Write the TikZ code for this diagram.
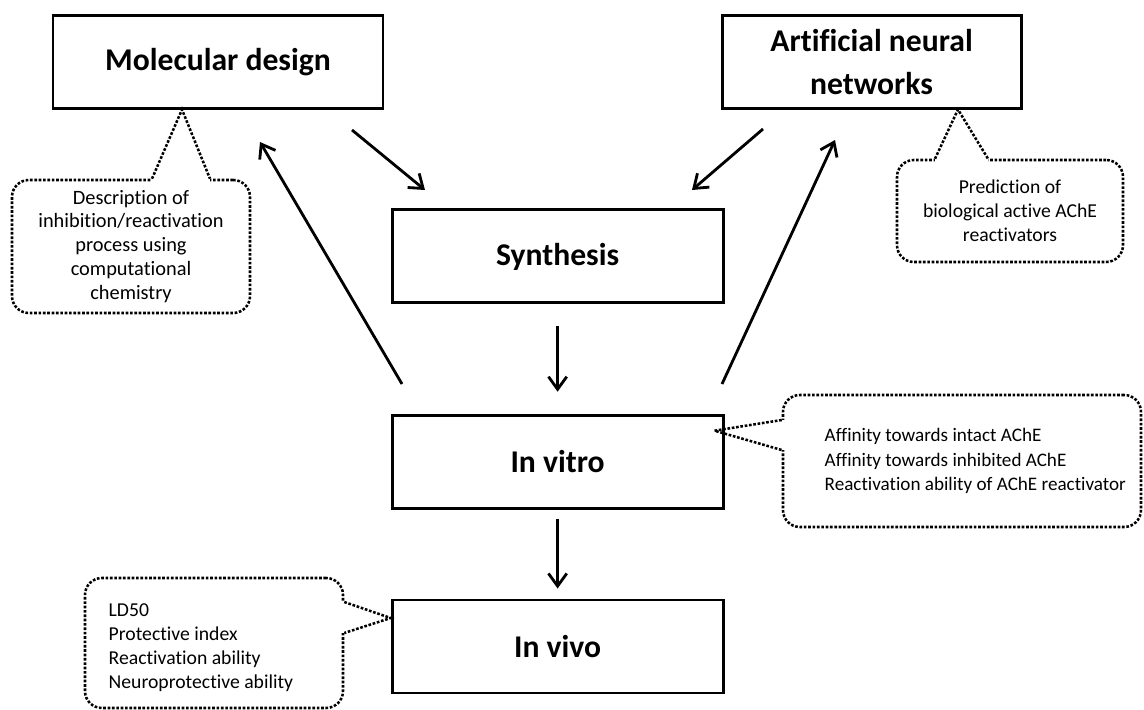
\documentclass[tikz,border=0pt]{standalone}
\usepackage{fontspec}
\setmainfont{Carlito}[Ligatures=NoCommon]
\usetikzlibrary{arrows.meta, positioning}

\begin{document}
\begin{tikzpicture}[
  stage/.style={rectangle, draw, line width=2pt, minimum height=2.325cm,
                text centered, font=\fontsize{22.5}{30.5}\selectfont\bfseries},
  note/.style={rectangle, draw, rounded corners=12pt, line width=1.8pt,
               dash pattern=on 1.9pt off 1.2pt, font=\fontsize{14}{17}\selectfont},
  notetext/.style={align=left, font=\fontsize{14}{17}\selectfont},
  pointer/.style={line width=1.8pt, dash pattern=on 1.9pt off 1.2pt},
  cover/.style={white, line width=5pt},
  arrow/.style={-{Straight Barb[length=9pt,width=13pt]}, line width=2pt}
]
\useasboundingbox (0,0) rectangle (28.6,-17.75);

\node[stage, minimum width=8.25cm]               (mol)   at (5.45,-1.54)   {Molecular design};
\node[stage, minimum width=7.475cm, align=center] (ann)  at (21.79,-1.54)  {Artificial neural\\networks};
\node[stage, minimum width=8.275cm]              (syn)   at (13.94,-6.41)  {Synthesis};
\node[stage, minimum width=8.275cm]              (vitro) at (13.94,-11.54) {In vitro};
\node[stage, minimum width=8.275cm]              (vivo)  at (13.94,-16.16) {In vivo};

\coordinate (molout)    at (8.8,-3.25);
\coordinate (synleft)   at (10.625,-4.75);
\coordinate (annout)    at (19.075,-3.225);
\coordinate (synright)  at (17.3,-4.75);
\coordinate (vitroleft) at (10.05,-9.6);
\coordinate (molin)     at (6.5,-3.55);
\coordinate (vitroright) at (18.05,-9.6);
\coordinate (annin)     at (20.875,-3.5);

\draw[arrow] (molout)     -- (synleft);
\draw[arrow] (annout)     -- (synright);
\draw[arrow] (vitroleft)  -- (molin);
\draw[arrow] (vitroright) -- (annin);
\draw[arrow, shorten <=0.55cm, shorten >=0.55cm] (syn)   -- (vitro);
\draw[arrow, shorten <=0.225cm, shorten >=0.25cm] (vitro) -- (vivo);

\node[note, minimum width=5.95cm, minimum height=3.325cm, align=center,
      font=\fontsize{14.5}{17}\selectfont] (molnote) at (3.275,-6.1625)
  {Description of\\inhibition/reactivation\\process using\\computational\\chemistry};
\draw[cover]   ([xshift=0.525cm]molnote.north) -- ([xshift=1.975cm]molnote.north);
\draw[pointer] ([xshift=0.525cm]molnote.north) -- ([xshift=-0.9cm]mol.south) -- ([xshift=1.975cm]molnote.north);

\node[note, minimum width=5.65cm, minimum height=2.55cm, align=center] (annnote) at (25.25,-5.275)
  {Prediction of\\biological active AChE\\reactivators};
\draw[cover]   ([xshift=-1.875cm]annnote.north) -- ([xshift=-0.55cm]annnote.north);
\draw[pointer] ([xshift=-1.875cm]annnote.north) -- ([xshift=2.16cm]ann.south) -- ([xshift=-0.55cm]annnote.north);

\node[note, minimum width=8.95cm, minimum height=3.3cm] (vitronote) at (24.05,-11.525) {};
\node[notetext, anchor=west, font=\fontsize{13.6}{17.3}\selectfont] (vitrotext) at ([xshift=0.95cm]vitronote.west)
  {Affinity towards intact AChE\\Affinity towards inhibited AChE\\Reactivation ability of AChE reactivator};
\draw[cover]   ([yshift=1.025cm]vitronote.west) -- ([yshift=0.275cm]vitronote.west);
\draw[pointer] ([yshift=1.025cm]vitronote.west) -- ([xshift=-0.25cm,yshift=-0.425cm]vitro.north east) -- ([yshift=0.275cm]vitronote.west);

\node[note, minimum width=6.45cm, minimum height=3.25cm] (vivonote) at (5.35,-16.075) {};
\node[notetext, anchor=west] (vivotext) at ([xshift=0.5cm,yshift=-0.11cm]vivonote.west)
  {LD50\\Protective index\\Reactivation ability\\Neuroprotective ability};
\draw[cover]   ([yshift=1.025cm]vivonote.east) -- ([yshift=0.25cm]vivonote.east);
\draw[pointer] ([yshift=1.025cm]vivonote.east) -- ([yshift=0.71cm]vivo.west) -- ([yshift=0.25cm]vivonote.east);
\end{tikzpicture}
\end{document}
